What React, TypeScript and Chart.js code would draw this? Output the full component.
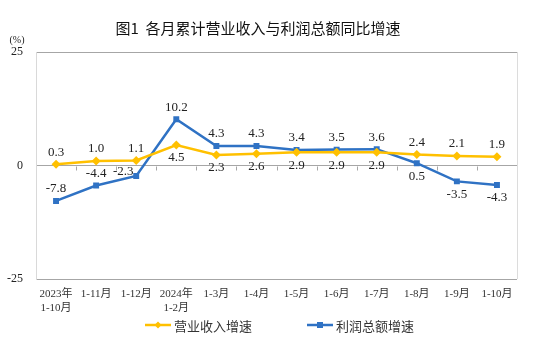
import React, { useEffect, useRef } from "react";
import { Chart, registerables } from "chart.js";

Chart.register(...registerables);

const categories: string[][] = [
  ["2023年", "1-10月"], ["1-11月"], ["1-12月"], ["2024年", "1-2月"], ["1-3月"], ["1-4月"],
  ["1-5月"], ["1-6月"], ["1-7月"], ["1-8月"], ["1-9月"], ["1-10月"],
];
const revenueGrowth = [0.3, 1.0, 1.1, 4.5, 2.3, 2.6, 2.9, 2.9, 2.9, 2.4, 2.1, 1.9];
const profitGrowth = [-7.8, -4.4, -2.3, 10.2, 4.3, 4.3, 3.4, 3.5, 3.6, 0.5, -3.5, -4.3];
const yTicks = [-25, 0, 25];
const titleText = "图1  各月累计营业收入与利润总额同比增速";
const seriesNames = ["营业收入增速", "利润总额增速"];
// label placement (style): a = above, b = below, l = left
const revenueLabelPos = ["a", "a", "a", "b", "b", "b", "b", "b", "b", "a", "a", "a"];
const profitLabelPos = ["a", "a", "l", "a", "a", "a", "a", "a", "a", "b", "b", "b"];

const YELLOW = "#FFC000";
const BLUE = "#2F72C4";
const SERIF = "'Liberation Serif', 'Times New Roman', 'Noto Sans CJK SC', serif";
const CJK = "'Noto Sans CJK SC', sans-serif";

const decorPlugin = {
  id: "decor",
  afterDraw(chart: any) {
    const { ctx, chartArea } = chart;
    const xs = chart.scales.x;
    const ys = chart.scales.y;
    ctx.save();
    // right border
    ctx.strokeStyle = "#dcdcdc";
    ctx.lineWidth = 1;
    ctx.beginPath();
    ctx.moveTo(Math.round(chartArea.right) + 0.5, chartArea.top);
    ctx.lineTo(Math.round(chartArea.right) + 0.5, chartArea.bottom);
    ctx.stroke();
    // tick marks on zero line between categories
    const y0 = Math.round(ys.getPixelForValue(0)) + 0.5;
    ctx.strokeStyle = "#a6a6a6";
    ctx.beginPath();
    for (let i = 1; i < categories.length; i++) {
      const x = Math.round((xs.getPixelForValue(i - 1) + xs.getPixelForValue(i)) / 2) + 0.5;
      ctx.moveTo(x, y0);
      ctx.lineTo(x, y0 + 4);
    }
    ctx.stroke();

    // data labels
    ctx.fillStyle = "#222";
    ctx.font = `13px ${SERIF}`;
    ctx.textBaseline = "middle";
    ctx.textAlign = "center";
    const sets = [
      { data: revenueGrowth, pos: revenueLabelPos },
      { data: profitGrowth, pos: profitLabelPos },
    ];
    sets.forEach((s, di) => {
      const meta = chart.getDatasetMeta(di);
      meta.data.forEach((pt: any, i: number) => {
        const txt = s.data[i].toFixed(1);
        let x = pt.x;
        let y = pt.y;
        const p = s.pos[i];
        if (p === "a") y -= 12;
        else if (p === "b") y += 13;
        else if (p === "l") { x -= 13; y -= 4; }
        ctx.fillText(txt, x, y);
      });
    });

    // title
    ctx.fillStyle = "#111";
    ctx.font = `15px ${CJK}`;
    ctx.textAlign = "center";
    ctx.fillText(titleText, 258, 28);

    // unit
    ctx.font = `10px ${SERIF}`;
    ctx.fillStyle = "#222";
    ctx.fillText("(%)", 17, 40);

    // legend
    const legendY = 325;
    const items = [
      { x: 145, color: YELLOW, style: "diamond", name: seriesNames[0] },
      { x: 307, color: BLUE, style: "square", name: seriesNames[1] },
    ];
    items.forEach((it) => {
      ctx.strokeStyle = it.color;
      ctx.fillStyle = it.color;
      ctx.lineWidth = 2.5;
      ctx.beginPath();
      ctx.moveTo(it.x, legendY);
      ctx.lineTo(it.x + 26, legendY);
      ctx.stroke();
      const cx = it.x + 13;
      ctx.beginPath();
      if (it.style === "diamond") {
        ctx.moveTo(cx, legendY - 3.5);
        ctx.lineTo(cx + 3.5, legendY);
        ctx.lineTo(cx, legendY + 3.5);
        ctx.lineTo(cx - 3.5, legendY);
        ctx.closePath();
      } else {
        ctx.rect(cx - 3, legendY - 3, 6, 6);
      }
      ctx.fill();
      ctx.fillStyle = "#333";
      ctx.font = `13px ${CJK}`;
      ctx.textAlign = "left";
      ctx.fillText(it.name, it.x + 29, legendY + 1);
    });
    ctx.restore();
  },
};

export default function App() {
  const ref = useRef<HTMLCanvasElement | null>(null);
  useEffect(() => {
    document.body.style.margin = "0";
    const canvas = ref.current;
    if (!canvas) return;
    const chart = new Chart(canvas, {
      type: "line",
      data: {
        labels: categories,
        datasets: [
          {
            label: seriesNames[0],
            data: revenueGrowth,
            borderColor: YELLOW,
            backgroundColor: YELLOW,
            borderWidth: 2.5,
            pointStyle: "rectRot",
            pointRadius: 4.5,
            pointBorderWidth: 0,
            tension: 0,
          },
          {
            label: seriesNames[1],
            data: profitGrowth,
            borderColor: BLUE,
            backgroundColor: BLUE,
            borderWidth: 2.5,
            pointStyle: "rect",
            pointRadius: 4.2,
            pointBorderWidth: 0,
            tension: 0,
          },
        ],
      },
      options: {
        animation: false,
        responsive: false,
        devicePixelRatio: 1,
        layout: { padding: { top: 52, right: 26, left: 0, bottom: 0 } },
        plugins: { legend: { display: false }, title: { display: false }, tooltip: { enabled: false } },
        scales: {
          x: {
            offset: true,
            grid: { display: false },
            border: { display: false },
            ticks: {
              color: "#333",
              font: { family: SERIF, size: 11, lineHeight: 1.2 },
              padding: 1,
              maxRotation: 0,
              autoSkip: false,
            },
            afterFit(scale: any) {
              scale.height = 73;
            },
          },
          y: {
            min: -25,
            max: 25,
            afterBuildTicks(scale: any) {
              scale.ticks = yTicks.map((v) => ({ value: v }));
            },
            grid: { color: "#a6a6a6", drawTicks: false, lineWidth: 1 },
            border: { display: true, color: "#d9d9d9" },
            ticks: {
              color: "#222",
              font: { family: SERIF, size: 12 },
              padding: 13,
            },
            afterFit(scale: any) {
              scale.width = 36;
            },
          },
        },
      },
      plugins: [decorPlugin],
    });
    return () => chart.destroy();
  }, []);
  return (
    <div style={{ position: "fixed", left: 0, top: 0, width: 543, height: 352, background: "#fff" }}>
      <canvas ref={ref} width={543} height={352} style={{ width: 543, height: 352 }} />
    </div>
  );
}
